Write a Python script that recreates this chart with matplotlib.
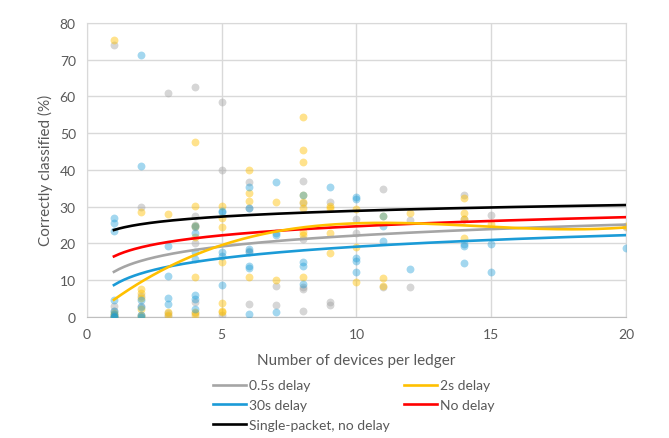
import numpy as np
import matplotlib
matplotlib.use("Agg")
import matplotlib.pyplot as plt

plt.rcParams['font.family'] = ['Lato', 'DejaVu Sans']

# scatter points
x_05 = [1, 1, 1, 1, 1, 2, 2, 2, 2, 3, 3, 3, 4, 4, 4, 4, 4, 4, 4, 5, 5, 5, 6, 6, 6, 6,
        7, 7, 8, 8, 8, 8, 8, 8, 9, 9, 9, 10, 10, 11, 11, 12, 12, 14, 14, 15, 20]
y_05 = [74, 3, 1.5, 0.5, 0, 30, 5.5, 3, 0.5, 61, 1, 0.3, 62.5, 27.5, 25, 24.5, 20, 4, 1,
        58.5, 40, 0.4, 36.8, 29.5, 18, 3.4, 8.4, 3.3, 37, 31, 21.1, 7.5, 8.2, 1.6,
        31.1, 4.1, 3.2, 26.7, 22.7, 34.9, 8.2, 26.4, 8.2, 33.2, 26.6, 27.6, 24.4]

x_2 = [1, 1, 1, 1, 2, 2, 2, 2, 2, 2, 3, 3, 3, 4, 4, 4, 4, 4, 4, 4, 5, 5, 5, 5, 5, 5, 5,
       6, 6, 6, 6, 7, 7, 8, 8, 8, 8, 8, 8, 8, 8, 8, 9, 9, 9, 9, 10, 10, 10, 11, 11, 11,
       12, 14, 14, 14, 14, 15, 20]
y_2 = [75.5, 1, 0.5, 0, 28.4, 7.5, 6.5, 5, 2, 0.3, 27.9, 1.2, 0.4,
       47.6, 30.2, 24.7, 21.6, 10.7, 1.2, 0.5, 30.2, 26.8, 24.3, 14.8, 3.7, 1.6, 1.2,
       39.9, 33.8, 31.5, 10.7, 31.1, 10, 54.4, 45.4, 42.2, 33.2, 31.1, 29.5, 23, 22.2, 10.7,
       30.2, 29.5, 22.7, 17.3, 29.3, 19.1, 9.3, 27.5, 10.5, 8.4,
       28.2, 32.2, 28.2, 26.6, 21.3, 25.2, 24.7]

x_30 = [1, 1, 1, 1, 1, 1, 1, 1, 1, 2, 2, 2, 2, 2, 2, 3, 3, 3, 3, 4, 4, 4, 4, 4, 4, 4,
        5, 5, 5, 5, 5, 6, 6, 6, 6, 6, 6, 6, 7, 7, 7, 7, 8, 8, 8, 8, 9, 10, 10, 10, 10, 10,
        11, 11, 11, 12, 14, 14, 14, 15, 15, 20]
y_30 = [27, 25.5, 23.3, 4.5, 1.5, 0.8, 0.3, 0, 0, 71.2, 41.1, 4.5, 2.5, 0.5, 0,
        19.3, 11, 5, 3.5, 24.7, 22.9, 17.5, 15.7, 5.9, 4.8, 2.1,
        28.4, 28.8, 17.5, 16.6, 8.7, 35.4, 29.5, 18.4, 17.5, 13.9, 13.2, 0.7,
        36.8, 22.9, 22.2, 1.2, 33.2, 14.9, 13.7, 8.9, 35.2, 32.5, 32, 16.1, 15.2, 12.2,
        27.5, 24.7, 20.7, 13.0, 19.8, 19.3, 14.6, 19.8, 12.1, 18.6]

# trendline coefficients: y = a*ln(x) + b
log_names = ['0.5s delay', '30s delay', 'No delay', 'Single-packet, no delay']
log_a = [4.3, 4.54, 3.57, 2.27]
log_b = [12.2, 8.6, 16.4, 23.6]
log_colors = ['#A5A5A5', '#1B9BD7', '#FF0000', '#000000']
# 2s delay uses a cubic trendline (highest power first)
poly_2s = [0.010217, -0.44443, 6.0687, -1.034]

fig = plt.figure(figsize=(6.69, 4.39), dpi=100)
ax = fig.add_axes([0.130, 0.2765, 0.8057, 0.6688])

ax.scatter(x_05, y_05, s=32, color='#A5A5A5', alpha=0.45, lw=0, zorder=3)
ax.scatter(x_2, y_2, s=32, color='#FFC000', alpha=0.45, lw=0, zorder=3)
ax.scatter(x_30, y_30, s=32, color='#1B9BD7', alpha=0.4, lw=0, zorder=3)

xs = np.linspace(1, 20, 200)
lines = {}
for name, a, b, c in zip(log_names, log_a, log_b, log_colors):
    lines[name], = ax.plot(xs, a * np.log(xs) + b, color=c, lw=1.9, label=name, zorder=4)
lines['2s delay'], = ax.plot(xs, np.polyval(poly_2s, xs), color='#FFC000', lw=1.9,
                             label='2s delay', zorder=4)

ax.set_xlim(0, 20)
ax.set_ylim(0, 80)
ax.set_xticks([0, 5, 10, 15, 20])
ax.set_yticks(range(0, 81, 10))
ax.grid(True, color='#D9D9D9', lw=1)
ax.set_axisbelow(True)
ax.tick_params(length=0, labelsize=10, labelcolor='#595959', pad=8)
for sp in ax.spines.values():
    sp.set_color('#D9D9D9')
ax.spines['bottom'].set_color('#BFBFBF')

ax.set_xlabel('Number of devices per ledger', fontsize=11, color='#595959')
ax.set_ylabel('Correctly classified (%)', fontsize=11, color='#595959')
ax.xaxis.set_label_coords(0.5, -0.123)
ax.yaxis.set_label_coords(-0.063, 0.5)

order = ['0.5s delay', '30s delay', 'Single-packet, no delay', '2s delay', 'No delay']
fig.legend([lines[k] for k in order], order, ncol=2, frameon=False,
           loc='upper left', bbox_to_anchor=(0.31, 0.146), fontsize=10,
           labelcolor='#595959', handlelength=2.4, handletextpad=0.2,
           columnspacing=1.0, labelspacing=0.55, borderaxespad=0)

fig.savefig('out.png', dpi=100)
